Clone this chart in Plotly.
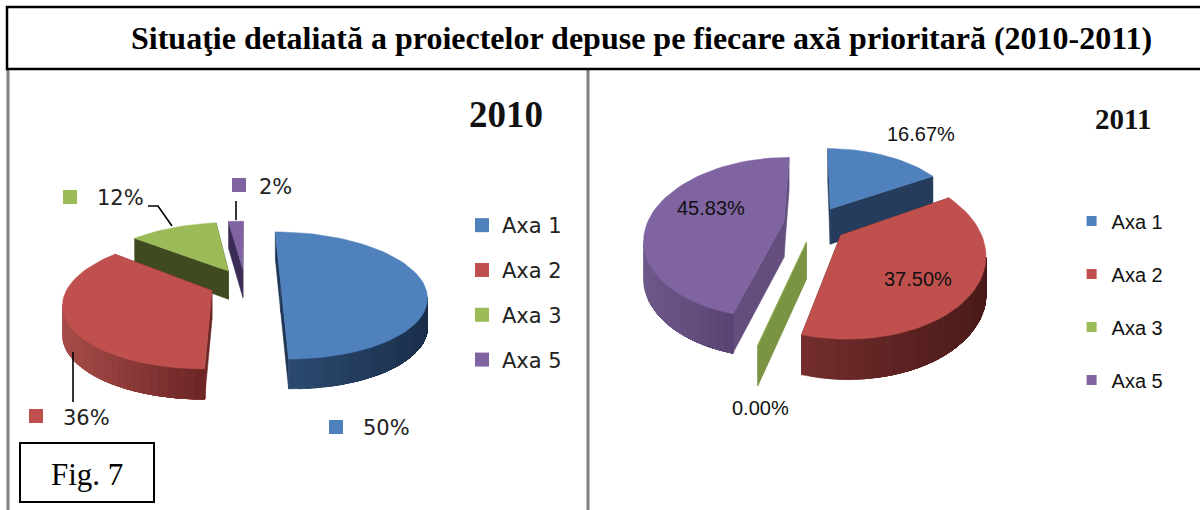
import math
import plotly.graph_objects as go

# ---- data ----
categories = ["Axa 1", "Axa 2", "Axa 3", "Axa 5"]
values_2010 = [50, 36, 12, 2]
values_2011 = [16.67, 37.50, 0.00, 45.83]
title_text = "Situaţie detaliată a proiectelor depuse pe fiecare axă prioritară (2010-2011)"
fig_label = "Fig. 7"

# ---- styles ----
top_colors = ["#4f81bd", "#c0504d", "#9bbb59", "#8064a2"]
style_2010 = dict(
    cx=245, cy=284, rx=143, ry=61.5, k=0.18, explode=0.25, start=0, depth=28.5, dk=0.05,
    wall=[("#2c4a70", "#1b2f4b"), ("#a84d4a", "#6b2525"), ("#3f4a20", "#3f4a20"), ("#3b2c55", "#3b2c55")],
    cut=["#1f3655", "#6b2525", "#3f4a20", "#3b2c55"],
)
style_2011 = dict(
    cx=815, cy=224, rx=137, ry=78, k=0.2, explode=0.23, start=0, depth=36, dk=0.1,
    wall=[("#263c5c", "#263c5c"), ("#732d2c", "#4a1b1a"), ("#7a9444", "#7a9444"), ("#6e5a8a", "#5a4373")],
    cut=["#263c5c", "#4d1c1c", "#7a9444", "#644e7e"],
)


def mix(a, b, t):
    pa = [int(a[i:i + 2], 16) for i in (1, 3, 5)]
    pb = [int(b[i:i + 2], 16) for i in (1, 3, 5)]
    return "rgb(%d,%d,%d)" % tuple(round(x + (y - x) * t) for x, y in zip(pa, pb))


def polygon(fig, pts, color):
    fig.add_trace(go.Scatter(
        x=[p[0] for p in pts] + [pts[0][0]], y=[p[1] for p in pts] + [pts[0][1]],
        mode="lines", fill="toself", fillcolor=color, line=dict(color=color, width=0.5),
        showlegend=False, hoverinfo="skip"))


def draw_pie(fig, values, st):
    total = sum(values)
    wedges, ang = [], st["start"]
    for i, v in enumerate(values):
        sweep = 360 * v / total
        wedges.append((i, ang, ang + sweep))
        ang += sweep

    def project(u, v):
        w = 1 - st["k"] * v
        return st["cx"] + st["rx"] * u / w, st["cy"] + st["ry"] * v / w

    def drop(u, v):
        x, y = project(u, v)
        return x, y + st["depth"] * (1 + st["dk"] * v)

    def bis_v(w):
        return -math.cos(math.radians((w[1] + w[2]) / 2))

    for i, a0, a1 in sorted(wedges, key=bis_v):
        mid = math.radians((a0 + a1) / 2)
        ou = st["explode"] * math.sin(mid)
        ov = -st["explode"] * math.cos(mid)
        n = max(2, int((a1 - a0) / 3))
        rim = []
        for j in range(n + 1):
            t = math.radians(a0 + (a1 - a0) * j / n)
            rim.append((ou + math.sin(t), ov - math.cos(t)))
        apex = (ou, ov)
        # cut faces
        for edge in (rim[0], rim[-1]):
            polygon(fig, [project(*apex), project(*edge), drop(*edge), drop(*apex)], st["cut"][i])
        # curved outer wall: the part of the rim that runs right to left faces the viewer
        left, right = st["wall"][i]
        xs = [project(*p)[0] for p in rim]
        front_idx = [j for j in range(n) if xs[j + 1] < xs[j]]
        if front_idx:
            front = rim[front_idx[0]:front_idx[-1] + 2][::-1]
            lo, hi = project(*front[0])[0], project(*front[-1])[0]
            # bands painted from left to right so no seams show
            for j in range(len(front) - 1):
                band = front[j:]
                xm = (project(*front[j])[0] + project(*front[j + 1])[0]) / 2
                tone = mix(left, right, (xm - lo) / max(hi - lo, 1))
                polygon(fig, [project(*p) for p in band] + [drop(*p) for p in reversed(band)], tone)
        # top face
        polygon(fig, [project(*apex)] + [project(*p) for p in rim], top_colors[i])


fig = go.Figure()
draw_pie(fig, values_2010, style_2010)
draw_pie(fig, values_2011, style_2011)

# leader lines of the 2010 chart
leaders = [[(73, 352), (73, 402)], [(148, 206), (158, 206), (172, 226)], [(236, 201), (236, 220)]]
for path in leaders:
    fig.add_trace(go.Scatter(x=[p[0] for p in path], y=[p[1] for p in path], mode="lines",
                             line=dict(color="black", width=1.6), showlegend=False, hoverinfo="skip"))

# data labels of the 2010 chart, with their colour keys
key_xy_2010 = [(336, 427), (36, 416), (70, 197), (239, 185)]
text_xy_2010 = [(361, 428), (61, 418), (95, 198), (257, 187)]
font_2010 = dict(family="DejaVu Sans", size=21, color="#222222")
font_2011 = dict(family="Liberation Sans", size=20, color="#111111")
annotations = []
for i, v in enumerate(values_2010):
    fig.add_trace(go.Scatter(x=[key_xy_2010[i][0]], y=[key_xy_2010[i][1]], mode="markers",
                             marker=dict(symbol="square", size=14, color=top_colors[i]),
                             showlegend=False, hoverinfo="skip"))
    annotations.append(dict(x=text_xy_2010[i][0], y=text_xy_2010[i][1], text=f"{v:.0f}%", showarrow=False,
                            xanchor="left", yanchor="middle", font=font_2010))

# data labels of the 2011 chart
text_xy_2011 = [(921, 134), (918, 279), (760, 408), (711, 208)]
for i, v in enumerate(values_2011):
    annotations.append(dict(x=text_xy_2011[i][0], y=text_xy_2011[i][1], text=f"{v:.2f}%", showarrow=False,
                            xanchor="center", yanchor="middle", font=font_2011))

# legends
for i, name in enumerate(categories):
    fig.add_trace(go.Scatter(x=[None], y=[None], mode="markers", name=name, legend="legend",
                             legendgroup=f"a{i}",
                             marker=dict(symbol="square", size=14, color=top_colors[i])))
    fig.add_trace(go.Scatter(x=[None], y=[None], mode="markers", name=name, legend="legend2",
                             legendgroup=f"b{i}",
                             marker=dict(symbol="square", size=10, color=top_colors[i])))

serif = "Liberation Serif"
annotations += [
    dict(x=641, y=38, text=f"<b>{title_text}</b>", showarrow=False, xanchor="center", yanchor="middle",
         font=dict(family=serif, size=32, color="black")),
    dict(x=506, y=114, text="<b>2010</b>", showarrow=False, xanchor="center", yanchor="middle",
         font=dict(family=serif, size=37, color="#111111")),
    dict(x=1123, y=119, text="<b>2011</b>", showarrow=False, xanchor="center", yanchor="middle",
         font=dict(family=serif, size=29, color="#111111")),
    dict(x=87, y=474, text=fig_label, showarrow=False, xanchor="center", yanchor="middle",
         font=dict(family=serif, size=31, color="black")),
]

shapes = [
    dict(type="line", x0=8, x1=8, y0=69, y1=510, line=dict(color="#808080", width=3)),
    dict(type="line", x0=588, x1=588, y0=69, y1=510, line=dict(color="#808080", width=3)),
    dict(type="rect", x0=7, x1=1204, y0=7, y1=69, line=dict(color="black", width=2.5), fillcolor="white"),
    dict(type="rect", x0=20, x1=154, y0=443, y1=502, line=dict(color="black", width=2), fillcolor="white",
         layer="above"),
]

fig.update_layout(
    width=1200, height=510, autosize=False, margin=dict(l=0, r=0, t=0, b=0),
    paper_bgcolor="white", plot_bgcolor="white",
    xaxis=dict(range=[0, 1200], visible=False, fixedrange=True),
    yaxis=dict(range=[510, 0], visible=False, fixedrange=True),
    shapes=shapes, annotations=annotations,
    legend=dict(x=0.385, y=0.598, xanchor="left", yanchor="top", traceorder="grouped", tracegroupgap=14.5,
                font=font_2010, bgcolor="rgba(0,0,0,0)"),
    legend2=dict(x=0.893, y=0.605, xanchor="left", yanchor="top", traceorder="grouped", tracegroupgap=24,
                 font=font_2011, bgcolor="rgba(0,0,0,0)"),
)
fig.write_html("out.html", config=dict(displayModeBar=False), post_script="document.body.style.margin='0';")
